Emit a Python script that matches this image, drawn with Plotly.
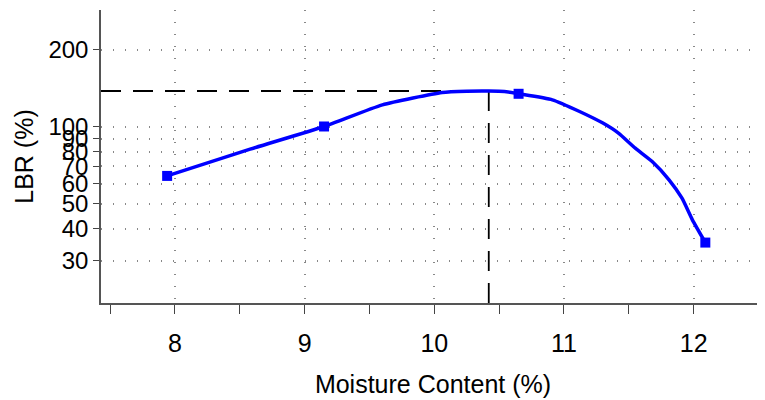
import math
import plotly.graph_objects as go

# Measured points (markers)
meas_x = [7.94, 9.15, 10.65, 12.09]
meas_y = [64.3, 100.3, 134.6, 35.3]

# Fitted curve
curve_x = [7.94, 8.58, 9.15, 9.6, 10.06, 10.25, 10.42, 10.54, 10.65, 10.91, 11.12, 11.3, 11.42, 11.55, 11.68, 11.81, 11.91, 11.99, 12.09]
curve_y = [64.3, 81.8, 100.3, 121.9, 136.2, 137.8, 138.0, 137.5, 134.6, 127.5, 114.8, 103.4, 94.5, 82.5, 73.2, 62.1, 52.6, 43.3, 35.3]

# Optimum (dashed guide)
opt_x = 10.42
opt_y = 138.0

x_range = [7.43, 12.55]
y_range_vals = [20.5, 286]

y_ticks = [30, 40, 50, 60, 70, 80, 90, 100, 200]
x_ticks = [8, 9, 10, 11, 12]
x_minor = [7.5, 8.5, 9.5, 10.5, 11.5, 12.5]

y_range = [math.log10(y_range_vals[0]), math.log10(y_range_vals[1])]

fig = go.Figure()
fig.add_trace(go.Scatter(x=curve_x, y=curve_y, mode="lines",
                         line=dict(color="#0000FF", width=3.5, shape="spline", smoothing=0.5),
                         hoverinfo="skip", showlegend=False))
fig.add_trace(go.Scatter(x=meas_x, y=meas_y, mode="markers",
                         marker=dict(symbol="square", size=10, color="#0000FF"),
                         showlegend=False))

dash = "20px,12px"
fig.add_shape(type="line", xref="x", yref="y", x0=x_range[0], x1=opt_x, y0=opt_y, y1=opt_y,
              line=dict(color="black", width=1.8, dash=dash), layer="below")
fig.add_shape(type="line", xref="x", yref="y", x0=opt_x, x1=opt_x, y0=y_range_vals[0], y1=opt_y,
              line=dict(color="black", width=1.8, dash=dash), layer="below")

font_family = "Liberation Sans, Arial, sans-serif"
fig.update_layout(
    width=757, height=392,
    margin=dict(l=93, r=0, t=2, b=97),
    paper_bgcolor="white", plot_bgcolor="white",
    font=dict(family=font_family, color="black"),
    xaxis=dict(range=x_range, tickvals=x_ticks, ticktext=[str(v) for v in x_ticks],
               ticks="outside", ticklen=9, tickcolor="#444", tickfont=dict(size=25),
               ticklabelstandoff=8,
               showline=True, linecolor="#555", linewidth=1.5,
               showgrid=True, gridcolor="#888", griddash="1px,11px", gridwidth=1.5,
               zeroline=False,
               minor=dict(tickvals=x_minor, ticks="outside", ticklen=9, tickcolor="#444", showgrid=False),
               title=dict(text="Moisture Content (%)", font=dict(size=25), standoff=20)),
    yaxis=dict(type="log", range=y_range, tickvals=y_ticks, ticktext=[str(v) for v in y_ticks],
               ticks="outside", ticklen=6, tickcolor="#444", tickfont=dict(size=24),
               showline=True, linecolor="#555", linewidth=1.5,
               showgrid=True, gridcolor="#888", griddash="1px,11px", gridwidth=1.5,
               zeroline=False,
               title=dict(text="LBR (%)", font=dict(size=25), standoff=8)),
)

fig.write_html("out.html")
